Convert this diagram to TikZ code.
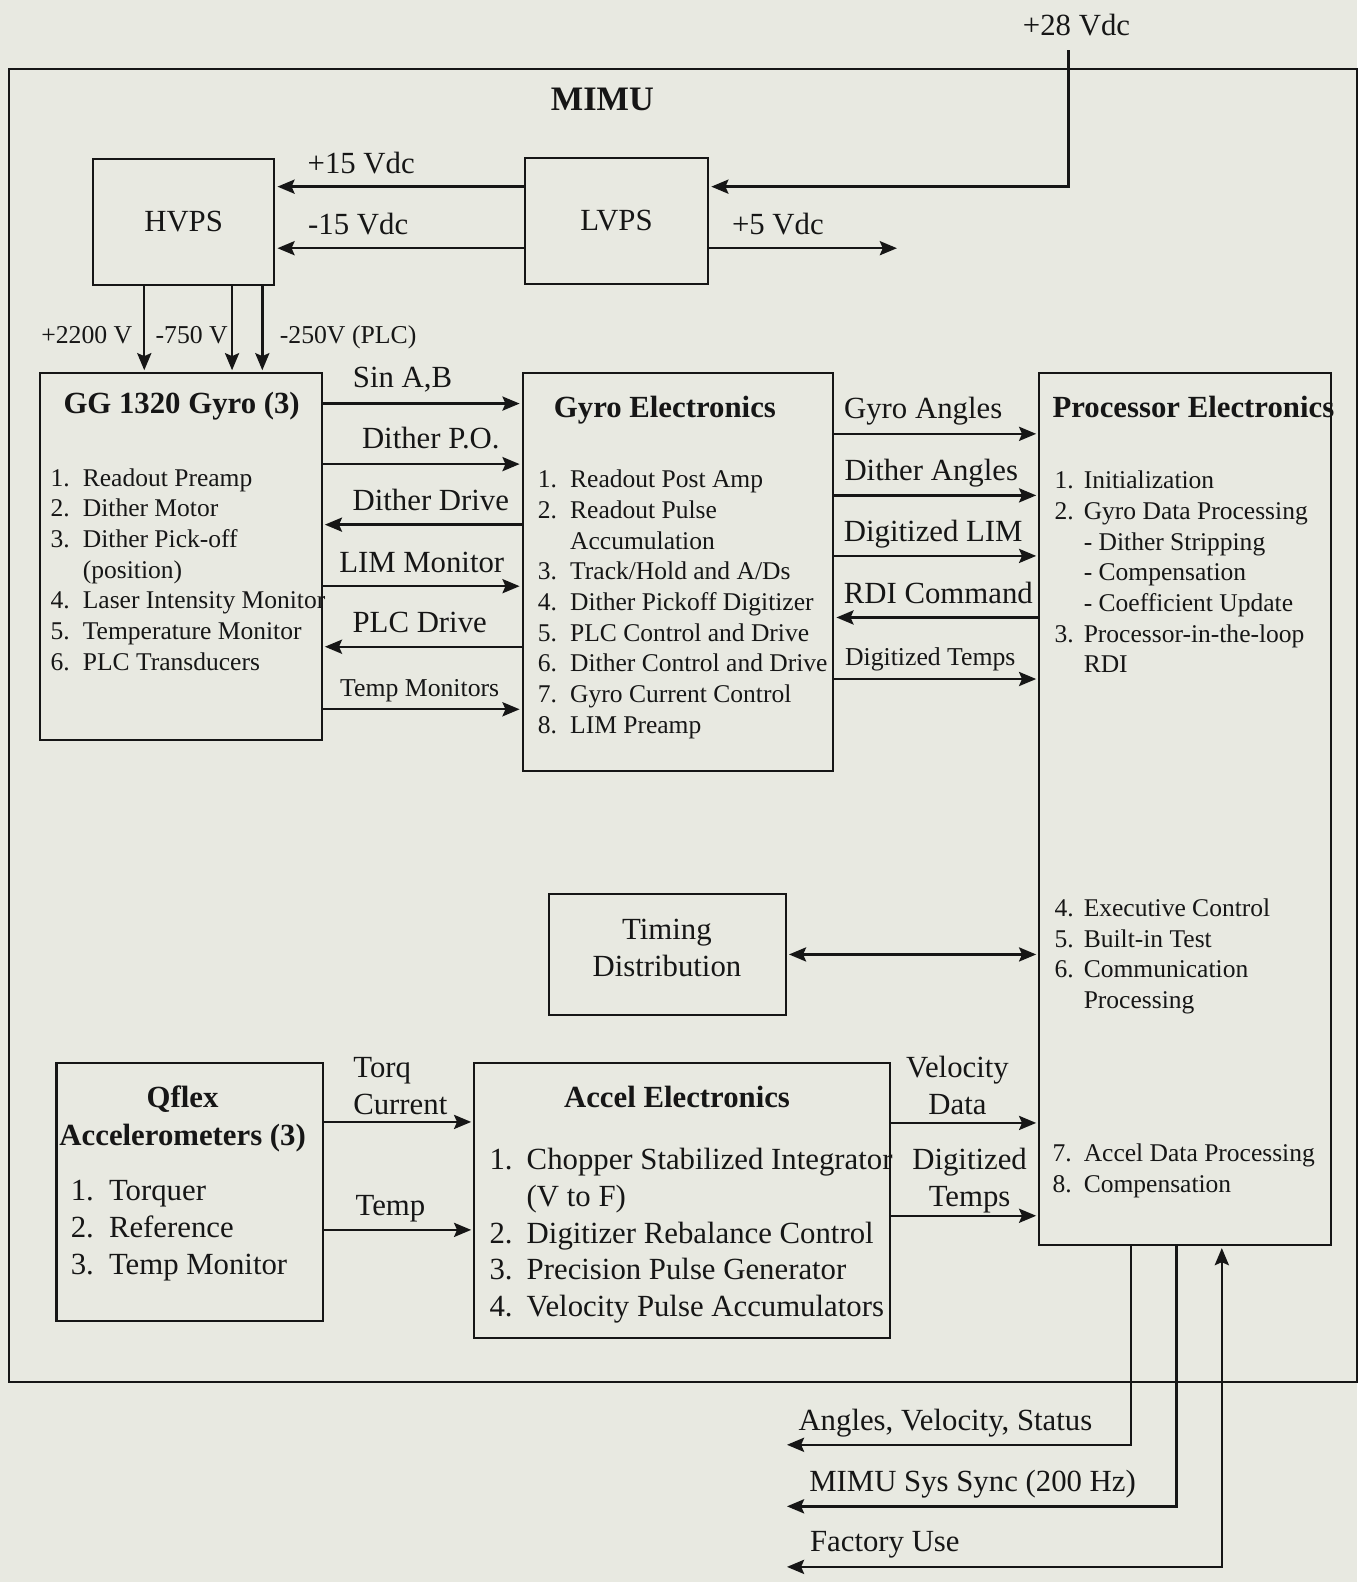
\documentclass[tikz,border=0pt]{standalone}
\usepackage{fontspec}
\setmainfont{Liberation Serif}
\usetikzlibrary{arrows.meta}

\begin{document}
\begin{tikzpicture}[x=1pt, y=-1pt, >={Stealth[length=17pt,width=14pt,inset=3pt]},
  box/.style={draw=ink, line width=2pt, inner sep=0pt, anchor=north west},
  txt/.style={text=ink, font=\fontsize{30.5}{37}\selectfont},
  sig/.style={->, draw=ink, line width=2.4pt, shorten >=2pt},
  lbl/.style={txt, inner sep=0pt, anchor=base},
  sml/.style={lbl, font=\fontsize{25.5}{30.4}\selectfont},
  ttl/.style={lbl, font=\fontsize{30.5}{37}\selectfont\bfseries},
  lst/.style={text=ink, inner sep=0pt, anchor=base west, font=\fontsize{25.3}{30.4}\selectfont},
  lstb/.style={lst, font=\fontsize{30.5}{36.5}\selectfont}]
\definecolor{ink}{HTML}{161616}
\definecolor{paper}{HTML}{E8E9E1}
\fill[paper] (0,0) rectangle (1345,1568);
\useasboundingbox (0,0) rectangle (1345,1568);

% frame and power
\node[box, minimum width=1336pt, minimum height=1302pt] (mimu) at (8,67) {};
\node[ttl, font=\fontsize{34}{40}\selectfont\bfseries] (mimut) at (597,110) {MIMU};
\node[box, txt, minimum width=180pt, minimum height=124pt] (hvps) at (91,157) {HVPS};
\node[box, txt, minimum width=182pt, minimum height=124pt] (lvps) at (519,156) {LVPS};
\node[lbl] (p28) at (1067,35) {+28 Vdc};
\coordinate (in28) at (1059,50);
\coordinate (o5) at (891,246);

% main boxes
\node[box, minimum width=279pt, minimum height=363pt] (gg) at (39,369) {};
\node[box, minimum width=308pt, minimum height=394pt] (ge) at (517,369) {};
\node[box, minimum width=289pt, minimum height=864pt] (pe) at (1029,369) {};
\node[box, minimum width=235pt, minimum height=120pt] (td) at (543,885) {};
\node[box, minimum width=264pt, minimum height=255pt] (qf) at (55,1053) {};
\node[box, minimum width=412pt, minimum height=272pt] (ae) at (469,1053) {};

% titles
\node[ttl] (ggt) at (180,410) {GG 1320 Gyro (3)};
\node[ttl] (get) at (659,414) {Gyro Electronics};
\node[ttl, anchor=base west] (pet) at (1043,414) {Processor Electronics};
\node[ttl] (qft) at (181,1098) {\begin{tabular}[t]{@{}c@{}}Qflex\\Accelerometers (3)\end{tabular}};
\node[ttl] (aet) at (671,1098) {Accel Electronics};
\node[lbl] (tdt) at (661,931) {\begin{tabular}[t]{@{}c@{}}Timing\\Distribution\end{tabular}};

% lists
\node[lst] (ggl) at (50,482) {\begin{tabular}[t]{@{}l@{\hspace{13pt}}l@{}}
1. & Readout Preamp\\ 2. & Dither Motor\\ 3. & Dither Pick-off\\ & (position)\\
4. & Laser Intensity Monitor\\ 5. & Temperature Monitor\\ 6. & PLC Transducers\end{tabular}};
\node[lst] (gel) at (533,483.5) {\begin{tabular}[t]{@{}l@{\hspace{13pt}}l@{}}
1. & Readout Post Amp\\ 2. & Readout Pulse\\ & Accumulation\\ 3. & Track/Hold and A/Ds\\
4. & Dither Pickoff Digitizer\\ 5. & PLC Control and Drive\\ 6. & Dither Control and Drive\\
7. & Gyro Current Control\\ 8. & LIM Preamp\end{tabular}};
\node[lst] (pel1) at (1045,484.5) {\begin{tabular}[t]{@{}l@{\hspace{10pt}}l@{}}
1. & Initialization\\ 2. & Gyro Data Processing\\ & - Dither Stripping\\ & - Compensation\\
& - Coefficient Update\\ 3. & Processor-in-the-loop\\ & RDI\end{tabular}};
\node[lst] (pel2) at (1045,908.5) {\begin{tabular}[t]{@{}l@{\hspace{10pt}}l@{}}
4. & Executive Control\\ 5. & Built-in Test\\ 6. & Communication\\ & Processing\end{tabular}};
\node[lst] (pel3) at (1043,1151.5) {\begin{tabular}[t]{@{}l@{\hspace{12pt}}l@{}}
7. & Accel Data Processing\\ 8. & Compensation\end{tabular}};
\node[lstb] (qfl) at (70,1190) {\begin{tabular}[t]{@{}l@{\hspace{15pt}}l@{}}
1. & Torquer\\ 2. & Reference\\ 3. & Temp Monitor\end{tabular}};
\node[lstb] (ael) at (485,1159) {\begin{tabular}[t]{@{}l@{\hspace{14pt}}l@{}}
1. & Chopper Stabilized Integrator\\ & (V to F)\\ 2. & Digitizer Rebalance Control\\
3. & Precision Pulse Generator\\ 4. & Velocity Pulse Accumulators\end{tabular}};

% power lines
\draw[sig] (in28) |- (lvps.east |- 0,185);
\draw[sig] (lvps.west |- 0,185) -- (hvps.east |- 0,185);
\draw[sig] (lvps.west |- 0,246) -- (hvps.east |- 0,246);
\draw[sig] (lvps.east |- 0,246) -- (o5);
\node[lbl] (v15p) at (358,172) {+15 Vdc};
\node[lbl] (v15m) at (355,232) {-15 Vdc};
\node[lbl] (v5) at (771,232) {+5 Vdc};
\foreach \x in {143,230,260} \draw[sig] (hvps.south -| \x,0) -- (gg.north -| \x,0);
\node[sml] (hv1) at (86,340) {+2200 V};
\node[sml] (hv2) at (190,340) {-750 V};
\node[sml] (hv3) at (345,340) {-250V (PLC)};

% gyro to gyro electronics
\draw[sig] (gg.east |- 0,400) -- (ge.west |- 0,400);
\draw[sig] (gg.east |- 0,460) -- (ge.west |- 0,460);
\draw[sig] (ge.west |- 0,520) -- (gg.east |- 0,520);
\draw[sig] (gg.east |- 0,581) -- (ge.west |- 0,581);
\draw[sig] (ge.west |- 0,641) -- (gg.east |- 0,641);
\draw[sig] (gg.east |- 0,703) -- (ge.west |- 0,703);
\node[lbl] (sab) at (399,384) {Sin A,B};
\node[lbl] (dpo) at (427,445) {Dither P.O.};
\node[lbl] (ddr) at (427,506) {Dither Drive};
\node[lbl] (lim) at (418,567) {LIM Monitor};
\node[lbl] (plc) at (416,627) {PLC Drive};
\node[sml] (tmo) at (416,690) {Temp Monitors};

% gyro electronics to processor
\draw[sig] (ge.east |- 0,430) -- (pe.west |- 0,430);
\draw[sig] (ge.east |- 0,491) -- (pe.west |- 0,491);
\draw[sig] (ge.east |- 0,551) -- (pe.west |- 0,551);
\draw[sig] (pe.west |- 0,612) -- (ge.east |- 0,612);
\draw[sig] (ge.east |- 0,673) -- (pe.west |- 0,673);
\node[lbl] (gan) at (915,415) {Gyro Angles};
\node[lbl] (dan) at (923,476) {Dither Angles};
\node[lbl] (dlim) at (925,537) {Digitized LIM};
\node[lbl] (rdi) at (930,598) {RDI Command};
\node[sml] (dtg) at (922,660) {Digitized Temps};

% timing
\draw[sig, <->, shorten <=2pt] (td.east) -- (pe.west |- td.east);

% accelerometers
\draw[sig] (qf.east |- 0,1112) -- (ae.west |- 0,1112);
\draw[sig] (qf.east |- 0,1219) -- (ae.west |- 0,1219);
\draw[sig] (ae.east |- 0,1113) -- (pe.west |- 0,1113);
\draw[sig] (ae.east |- 0,1205) -- (pe.west |- 0,1205);
\node[lbl, anchor=base west] (tq) at (350,1068) {\begin{tabular}[t]{@{}l@{}}Torq\\Current\end{tabular}};
\node[lbl] (tmp) at (387,1205) {Temp};
\node[lbl] (vel) at (949,1068) {\begin{tabular}[t]{@{}c@{}}Velocity\\Data\end{tabular}};
\node[lbl] (dta) at (961,1159) {\begin{tabular}[t]{@{}c@{}}Digitized\\Temps\end{tabular}};

% external lines
\coordinate (o1) at (778,1432);
\coordinate (o2) at (778,1493);
\coordinate (o3) at (778,1553);
\draw[sig] (pe.south -| 1121,0) |- (o1);
\draw[sig] (pe.south -| 1166,0) |- (o2);
\draw[sig, <->, shorten <=2pt] (o3) -| (pe.south -| 1211,0);
\node[lbl] (avs) at (937,1418) {Angles, Velocity, Status};
\node[lbl] (sync) at (964,1478) {MIMU Sys Sync (200 Hz)};
\node[lbl] (fac) at (877,1538) {Factory Use};
\end{tikzpicture}
\end{document}
